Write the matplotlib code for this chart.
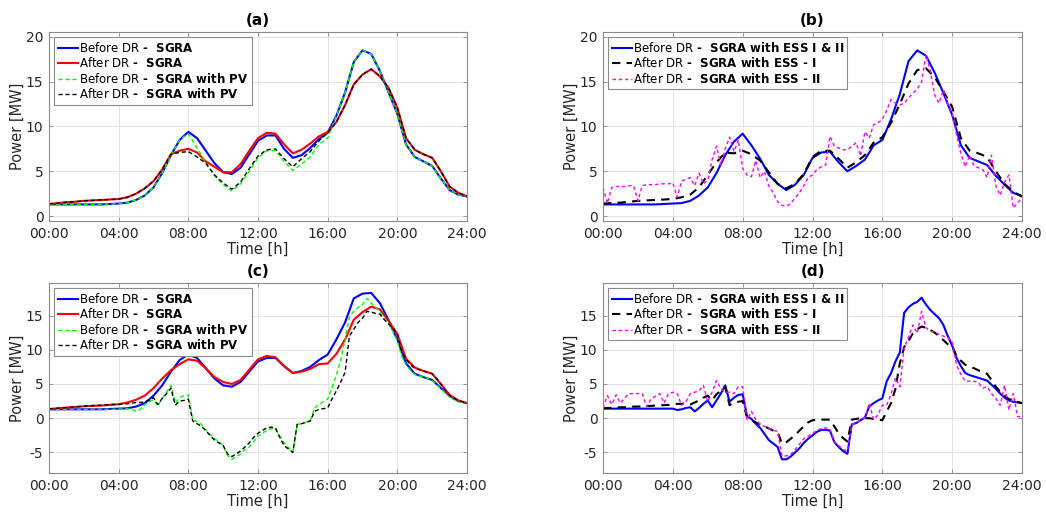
import numpy as np
import matplotlib
matplotlib.use("Agg")
import matplotlib.pyplot as plt

# ---------------- data ----------------
hours30 = np.arange(49) * 0.5      # half-hour grid 00:00..24:00
hours15 = np.arange(97) * 0.25     # quarter-hour grid 00:00..24:00

xtick_hours = [0, 4, 8, 12, 16, 20, 24]
xtick_labels = ["00:00", "04:00", "08:00", "12:00", "16:00", "20:00", "24:00"]

# Panel (a)
a_before_sgra = [1.3, 1.3, 1.3, 1.3, 1.3, 1.3, 1.3, 1.35,
                 1.4, 1.5, 1.8, 2.3, 3.2, 4.8, 6.8, 8.5,
                 9.4, 8.7, 7.3, 5.9, 4.9, 4.7, 5.4, 6.9,
                 8.4, 9.0, 9.0, 7.5, 6.5, 6.8, 7.6, 8.6,
                 9.3, 11.2, 13.8, 17.2, 18.5, 18.1, 16.2, 13.8,
                 11.4, 8.0, 6.6, 6.1, 5.6, 4.2, 2.9, 2.4, 2.2]
a_after_sgra = [1.35, 1.45, 1.55, 1.6, 1.7, 1.75, 1.8, 1.85,
                1.9, 2.1, 2.5, 3.1, 3.9, 5.2, 6.9, 7.3,
                7.5, 7.1, 6.1, 5.5, 4.9, 4.9, 5.8, 7.3,
                8.7, 9.3, 9.2, 8.0, 7.0, 7.4, 8.1, 8.9,
                9.4, 10.5, 12.4, 14.7, 15.8, 16.4, 15.6, 14.3,
                12.1, 8.7, 7.4, 6.9, 6.5, 5.0, 3.3, 2.6, 2.2]
a_before_pv = [1.3, 1.3, 1.3, 1.3, 1.3, 1.3, 1.3, 1.35,
               1.4, 1.5, 1.8, 2.3, 3.2, 4.8, 6.8, 8.5,
               9.2, 7.6, 6.0, 4.5, 3.5, 2.8, 3.6, 5.0,
               6.5, 7.3, 7.3, 6.1, 5.1, 5.8, 6.6, 8.0,
               8.7, 11.2, 13.8, 17.2, 18.5, 18.1, 16.2, 13.8,
               11.4, 8.0, 6.6, 6.1, 5.6, 4.2, 2.9, 2.4, 2.2]
a_after_pv = [1.35, 1.45, 1.55, 1.6, 1.7, 1.75, 1.8, 1.85,
              1.9, 2.1, 2.5, 3.1, 3.9, 5.2, 6.9, 7.1,
              7.2, 6.6, 5.9, 4.6, 3.7, 3.0, 3.8, 5.3,
              6.7, 7.4, 7.5, 6.4, 5.5, 6.4, 7.2, 8.4,
              9.3, 10.5, 12.4, 14.7, 15.8, 16.4, 15.6, 14.3,
              12.1, 8.7, 7.4, 6.9, 6.5, 5.0, 3.3, 2.6, 2.2]

# Panel (b)
b_before_ess = [1.3, 1.3, 1.3, 1.3, 1.3, 1.3, 1.3, 1.35,
                1.4, 1.45, 1.7, 2.3, 3.2, 4.8, 6.8, 8.3,
                9.2, 7.9, 6.4, 4.6, 3.6, 2.9, 3.5, 4.6,
                6.5, 7.1, 7.2, 6.0, 5.0, 5.6, 6.3, 7.9,
                8.5, 10.8, 13.6, 17.3, 18.5, 17.9, 16.0, 13.7,
                11.3, 7.9, 6.5, 6.1, 5.7, 4.5, 3.5, 2.6, 2.2]
b_after_ess1 = [1.4, 1.45, 1.5, 1.6, 1.7, 1.75, 1.8, 1.85,
                1.9, 2.1, 2.4, 3.2, 4.6, 6.0, 7.1, 7.0,
                7.3, 6.9, 6.2, 4.9, 3.6, 3.1, 3.6, 4.7,
                6.6, 7.3, 7.3, 6.4, 5.4, 6.0, 6.8, 8.2,
                8.8, 10.4, 12.5, 14.8, 16.3, 16.5, 15.5, 13.9,
                12.2, 8.7, 7.3, 7.0, 6.6, 5.0, 3.6, 2.7, 2.2]
b_after_ess2 = [3.2, 1.4, 3.2, 3.3,
                3.3, 3.3, 3.4, 3.4,
                1.7, 3.4, 3.5, 3.5,
                3.5, 3.6, 3.6, 3.6,
                3.7, 2.1, 3.9, 4.1,
                4.3, 3.4, 4.8, 3.6,
                4.0, 6.3, 7.8, 5.7,
                7.5, 8.8, 7.2, 8.5,
                5.3, 4.6, 4.4, 6.2,
                4.3, 5.0, 3.3, 2.6,
                1.6, 1.2, 1.1, 1.4,
                2.0, 2.6, 3.4, 4.3,
                4.6, 5.2, 5.5, 5.7,
                8.9, 7.8, 7.6, 7.4,
                7.4, 7.8, 8.2, 6.7,
                9.4, 8.7, 10.2, 10.4,
                10.8, 11.8, 13.0, 12.6,
                12.4, 12.6, 13.2, 13.7,
                14.2, 15.0, 18.0, 16.2,
                13.5, 12.6, 14.1, 12.5,
                11.5, 9.1, 7.0, 5.5,
                6.8, 5.6, 5.4, 5.2,
                4.3, 6.8, 3.4, 2.3,
                3.8, 4.6, 0.9, 1.5,
                2.0]

# Panel (c)
c_before_sgra = [1.3, 1.3, 1.3, 1.3, 1.3, 1.3, 1.3, 1.35,
                 1.4, 1.45, 1.7, 2.2, 3.3, 4.8, 6.8, 8.5,
                 9.3, 8.8, 7.3, 5.8, 4.8, 4.6, 5.3, 6.8,
                 8.3, 8.8, 8.8, 7.6, 6.6, 6.9, 7.5, 8.5,
                 9.3, 11.5, 14.0, 17.5, 18.2, 18.3, 16.8, 14.3,
                 11.5, 8.0, 6.5, 6.0, 5.6, 4.4, 3.3, 2.5, 2.2]
c_after_sgra = [1.35, 1.45, 1.55, 1.65, 1.75, 1.8, 1.85, 1.95,
                2.05, 2.3, 2.7, 3.3, 4.4, 5.8, 7.0, 7.9,
                8.6, 8.4, 7.3, 6.0, 5.3, 5.0, 5.6, 7.1,
                8.6, 9.1, 8.9, 7.6, 6.6, 6.8, 7.2, 7.9,
                8.0, 9.4, 11.5, 14.4, 15.5, 16.3, 15.9, 14.2,
                12.3, 8.7, 7.4, 6.9, 6.5, 5.0, 3.4, 2.6, 2.2]
c_before_pv = [1.3, 1.3, 1.3, 1.3,
               1.3, 1.3, 1.3, 1.3,
               1.3, 1.3, 1.3, 1.3,
               1.3, 1.3, 1.3, 1.3,
               1.35, 1.35, 1.4, 1.3,
               1.0, 1.3, 2.0, 2.4,
               2.7, 1.8, 2.9, 3.8,
               4.8, 2.2, 3.0, 3.3,
               3.4, -0.2, -0.5, -0.9,
               -1.7, -2.4, -3.0, -3.4,
               -4.0, -5.4, -6.0, -5.6,
               -5.2, -4.6, -4.2, -3.4,
               -2.6, -2.2, -1.8, -1.5,
               -1.6, -2.6, -3.6, -4.3,
               -4.9, -0.9, -0.8, -0.6,
               -0.3, 1.5, 2.0, 2.4,
               2.8, 4.5, 6.3, 8.5,
               11.5, 14.8, 15.6, 16.2,
               16.6, 17.5, 16.8, 16.2,
               15.6, 14.5, 13.8, 12.6,
               11.3, 9.0, 7.8, 7.0,
               6.4, 6.2, 6.0, 5.8,
               5.5, 4.9, 4.3, 3.7,
               3.1, 2.7, 2.5, 2.3,
               2.2]
c_after_pv = [1.35, 1.4, 1.45, 1.5,
              1.55, 1.6, 1.65, 1.7,
              1.75, 1.8, 1.85, 1.9,
              1.9, 1.95, 2.0, 2.0,
              2.0, 2.1, 2.1, 2.2,
              2.3, 2.3, 2.4, 2.6,
              3.0, 2.0, 2.9, 3.6,
              4.4, 1.9, 2.5, 2.6,
              2.8, -0.4, -0.8, -1.2,
              -1.8, -2.5, -3.2, -3.6,
              -4.0, -5.2, -5.6, -5.2,
              -4.8, -4.2, -3.6, -2.8,
              -2.2, -1.8, -1.4, -1.3,
              -1.4, -2.8, -4.0, -4.5,
              -5.0, -0.9, -0.8, -0.6,
              -0.4, 1.0, 1.3, 1.4,
              1.5, 2.8, 4.0, 5.3,
              6.7, 12.0, 13.0, 14.0,
              14.6, 15.6, 15.5, 15.3,
              15.2, 14.4, 13.8, 13.1,
              12.3, 9.8, 8.6, 7.8,
              7.3, 7.1, 6.9, 6.7,
              6.5, 5.8, 5.0, 4.1,
              3.3, 2.9, 2.6, 2.4,
              2.2]

# Panel (d)
d_before_ess = [1.4, 1.4, 1.4, 1.4,
                1.4, 1.4, 1.4, 1.4,
                1.4, 1.4, 1.4, 1.4,
                1.4, 1.4, 1.4, 1.4,
                1.4, 1.2, 1.3, 1.5,
                1.6, 1.0, 1.5, 2.1,
                2.6, 1.6, 2.6, 3.6,
                4.8, 2.4, 3.0, 3.4,
                3.5, 0.3, -0.1, -0.8,
                -1.4, -2.3, -3.2, -3.7,
                -4.2, -6.0, -6.0, -5.6,
                -5.0, -4.4, -3.6, -3.0,
                -2.5, -2.0, -1.7, -1.7,
                -1.8, -3.5, -4.2, -4.8,
                -5.2, -0.9, -0.7, -0.3,
                0.1, 1.7, 2.2, 2.6,
                2.9, 5.4, 6.6, 8.3,
                9.6, 15.4, 16.2, 16.7,
                17.0, 17.6, 16.6, 15.8,
                15.2, 14.6, 13.6, 12.0,
                10.6, 8.8, 7.6, 6.6,
                6.3, 6.1, 5.9, 5.7,
                5.5, 4.9, 4.3, 3.6,
                3.0, 2.6, 2.4, 2.3,
                2.2]
d_after_ess1 = [1.45, 1.5, 1.5, 1.55,
                1.6, 1.6, 1.65, 1.7,
                1.7, 1.75, 1.8, 1.8,
                1.85, 1.9, 1.9, 1.95,
                2.0, 2.1, 2.1, 2.2,
                2.0, 2.3, 2.6, 3.0,
                3.3, 2.6, 3.5, 4.0,
                4.6, 1.9, 2.3, 2.4,
                2.5, 0.1, -0.3, -0.6,
                -0.9, -1.2, -1.5, -1.8,
                -2.0, -3.7, -3.5, -3.0,
                -2.5, -1.8, -1.2, -0.6,
                -0.3, -0.2, -0.2, -0.2,
                -0.2, -1.2, -2.2, -2.9,
                -3.4, -0.2, -0.1, 0.0,
                0.0, 0.0, -0.1, -0.2,
                -0.3, 1.0, 2.2, 4.3,
                8.0, 10.4, 11.3, 12.4,
                13.0, 13.4, 13.2, 12.9,
                12.5, 12.0, 11.4, 10.8,
                10.6, 9.0, 8.4, 7.8,
                7.5, 7.3, 7.0, 6.7,
                6.5, 5.6, 4.6, 3.9,
                3.3, 2.8, 2.6, 2.4,
                2.2]
d_after_ess2 = [1.5, 3.3, 2.0, 3.4,
                2.2, 3.0, 3.6, 3.6,
                3.6, 3.6, 1.7, 2.8,
                3.2, 3.6, 2.2, 3.6,
                3.8, 3.6, 1.9, 2.4,
                3.6, 3.8, 4.0, 4.8,
                2.4, 3.8, 5.5, 4.3,
                3.8, 3.8, 3.6, 4.6,
                4.6, -0.2, 1.0, -0.2,
                -0.9, -1.2, -1.5, -1.8,
                -1.9, -5.5, -5.5, -5.3,
                -4.6, -3.8, -3.0, -2.6,
                -2.2, -1.8, -1.5, -1.4,
                -1.6, -3.4, -4.0, -4.6,
                -4.8, -0.9, -0.6, -0.3,
                0.05, 2.2, -0.2, 0.5,
                1.9, 1.9, 3.5, 5.9,
                4.6, 10.2, 11.9, 13.6,
                12.4, 15.6, 13.2, 12.7,
                12.6, 12.2, 12.0, 11.8,
                11.2, 7.8, 6.4, 5.4,
                5.4, 5.4, 5.2, 4.4,
                4.6, 3.6, 2.9, 1.9,
                4.8, 1.2, 3.6, 0.2,
                0.3]

# legend labels: regular prefix (mathtext \mathrm) + bold scenario name
lbl_before_sgra = r"$\mathrm{Before\ DR\ }$-  SGRA"
lbl_after_sgra = r"$\mathrm{After\ DR\ }$-  SGRA"
lbl_before_pv = r"$\mathrm{Before\ DR\ }$-  SGRA with PV"
lbl_after_pv = r"$\mathrm{After\ DR\ }$-  SGRA with PV"
lbl_before_ess = r"$\mathrm{Before\ DR\ }$-  SGRA with ESS I & II"
lbl_after_ess1 = r"$\mathrm{After\ DR\ }$-  SGRA with ESS - I"
lbl_after_ess2 = r"$\mathrm{After\ DR\ }$-  SGRA with ESS - II"

# ---------------- style ----------------
plt.rcParams["font.family"] = ["DejaVu Sans"]
plt.rcParams["mathtext.fontset"] = "dejavusans"
plt.rcParams["axes.unicode_minus"] = False

SPINE = "#8a8a8a"
TXT = "#262626"

fig = plt.figure(figsize=(10.46, 5.13), dpi=100)
W, H = 1046, 513


def make_ax(left, top, right, bottom):
    return fig.add_axes([left / W, 1 - bottom / H, (right - left) / W, (bottom - top) / H])


ax_a = make_ax(49, 32, 467, 221)
ax_b = make_ax(603, 32, 1022, 221)
ax_c = make_ax(49, 283, 467, 473)
ax_d = make_ax(603, 283, 1022, 473)


def style(ax, title, ylim, yticks):
    ax.set_xlim(0, 24)
    ax.set_ylim(*ylim)
    ax.set_xticks(xtick_hours)
    ax.set_xticklabels(xtick_labels)
    ax.set_yticks(yticks)
    ax.set_yticklabels([str(v) for v in yticks])
    ax.grid(True, color="#e3e3e3", linewidth=0.7)
    ax.set_axisbelow(True)
    for s in ax.spines.values():
        s.set_color(SPINE)
        s.set_linewidth(0.8)
    ax.tick_params(direction="in", length=3, width=0.6, color=SPINE,
                   labelcolor=TXT, labelsize=10, top=True, right=True, pad=4)
    ax.set_xlabel("Time [h]", fontsize=10.5, color=TXT, labelpad=1)
    ax.set_ylabel("Power [MW]", fontsize=10.5, color=TXT, labelpad=0.5)
    ax.set_title(title, fontsize=11, fontweight="bold", color="black", pad=5)


def legend(ax):
    lg = ax.legend(loc="upper left", fontsize=8.5, handlelength=1.7, handletextpad=0.05,
                   labelspacing=0.12, borderpad=0.3, borderaxespad=0.45,
                   fancybox=False, framealpha=1, edgecolor="#8a8a8a")
    lg.get_frame().set_linewidth(0.8)
    for t in lg.get_texts():
        t.set_color("black")
        t.set_fontweight("bold")


# (a)
ax_a.plot(hours30, a_before_sgra, color="#0000ff", lw=1.5, label=lbl_before_sgra)
ax_a.plot(hours30, a_after_sgra, color="#ff0000", lw=1.5, label=lbl_after_sgra)
ax_a.plot(hours30, a_before_pv, color="#00ff00", lw=1.0, ls=(0, (3, 2)), label=lbl_before_pv)
ax_a.plot(hours30, a_after_pv, color="black", lw=1.0, ls=(0, (3, 2)), label=lbl_after_pv)
style(ax_a, "(a)", (-0.55, 20.55), [0, 5, 10, 15, 20])
legend(ax_a)

# (b)
ax_b.plot(hours30, b_before_ess, color="#0000ff", lw=1.5, label=lbl_before_ess)
ax_b.plot(hours30, b_after_ess1, color="black", lw=1.5, ls=(0, (4, 3)), label=lbl_after_ess1)
ax_b.plot(hours15, b_after_ess2, color="#ff00ff", lw=1.0, ls=(0, (2.5, 2)), label=lbl_after_ess2)
style(ax_b, "(b)", (-0.55, 20.55), [0, 5, 10, 15, 20])
legend(ax_b)

# (c)
ax_c.plot(hours30, c_before_sgra, color="#0000ff", lw=1.5, label=lbl_before_sgra)
ax_c.plot(hours30, c_after_sgra, color="#ff0000", lw=1.5, label=lbl_after_sgra)
ax_c.plot(hours15, c_before_pv, color="#00ff00", lw=1.0, ls=(0, (3, 2)), label=lbl_before_pv)
ax_c.plot(hours15, c_after_pv, color="black", lw=1.0, ls=(0, (3, 2)), label=lbl_after_pv)
style(ax_c, "(c)", (-8.0, 19.75), [-5, 0, 5, 10, 15])
legend(ax_c)

# (d)
ax_d.plot(hours15, d_before_ess, color="#0000ff", lw=1.5, label=lbl_before_ess)
ax_d.plot(hours15, d_after_ess1, color="black", lw=1.5, ls=(0, (4, 3)), label=lbl_after_ess1)
ax_d.plot(hours15, d_after_ess2, color="#ff00ff", lw=1.0, ls=(0, (2.5, 2)), label=lbl_after_ess2)
style(ax_d, "(d)", (-8.0, 19.75), [-5, 0, 5, 10, 15])
legend(ax_d)

fig.savefig("out.png", dpi=100, facecolor="white")
